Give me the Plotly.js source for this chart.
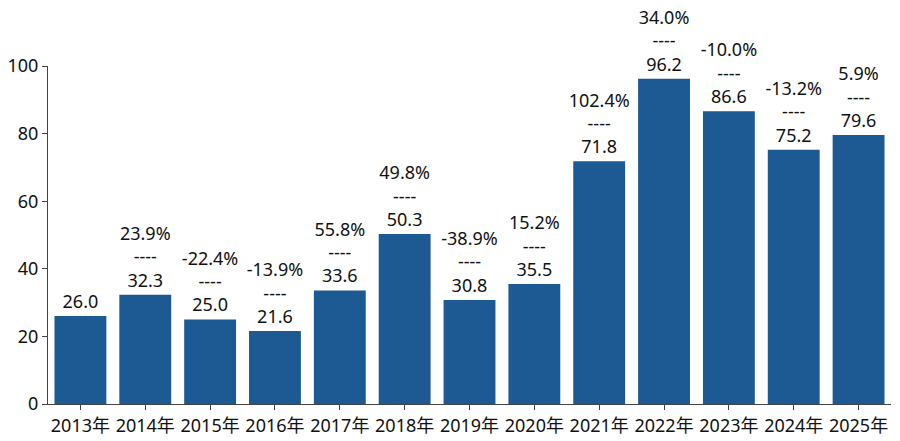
<!DOCTYPE html>
<html>
<head>
<meta charset="utf-8">
<script src="https://cdn.plot.ly/plotly-3.0.1.min.js"></script>
<style>html,body{margin:0;padding:0;background:#fff;}#chart{width:900px;height:441px;}</style>
</head>
<body>
<div id="chart"></div>
<script>
var categories = ["2013年","2014年","2015年","2016年","2017年","2018年","2019年","2020年","2021年","2022年","2023年","2024年","2025年"];
var values = [26.0, 32.3, 25.0, 21.6, 33.6, 50.3, 30.8, 35.5, 71.8, 96.2, 86.6, 75.2, 79.6];
var growth = [null, "23.9%", "-22.4%", "-13.9%", "55.8%", "49.8%", "-38.9%", "15.2%", "102.4%", "34.0%", "-10.0%", "-13.2%", "5.9%"];
var yTicks = [0, 20, 40, 60, 80, 100];

var labels = values.map(function(v, i){
  var s = v.toFixed(1);
  return growth[i] === null ? s : growth[i] + "<br>----<br>" + s;
});

var font = "Noto Sans, Noto Sans CJK SC, sans-serif";
Plotly.newPlot("chart", [{
  type: "bar",
  x: categories,
  y: values,
  text: labels,
  textposition: "outside",
  constraintext: "none",
  cliponaxis: false,
  textfont: {family: font, size: 18, color: "#111"},
  marker: {color: "#1d5a94"},
  hoverinfo: "none"
}], {
  width: 900, height: 441,
  margin: {l: 48, r: 9, t: 66, b: 37},
  paper_bgcolor: "#fff", plot_bgcolor: "#fff",
  bargap: 0.2,
  showlegend: false,
  font: {family: font, size: 18, color: "#111"},
  xaxis: {
    type: "category",
    showline: true, linecolor: "#444", linewidth: 1,
    ticks: "outside", ticklen: 5, tickcolor: "#444",
    tickfont: {family: font, size: 18, color: "#111"},
    showgrid: false, zeroline: false
  },
  yaxis: {
    range: [0, 100],
    tickvals: yTicks,
    showline: true, linecolor: "#444", linewidth: 1,
    ticks: "outside", ticklen: 5, tickcolor: "#444",
    tickfont: {family: font, size: 18, color: "#111"},
    showgrid: false, zeroline: false
  }
}, {displayModeBar: false, staticPlot: true});
</script>
</body>
</html>
